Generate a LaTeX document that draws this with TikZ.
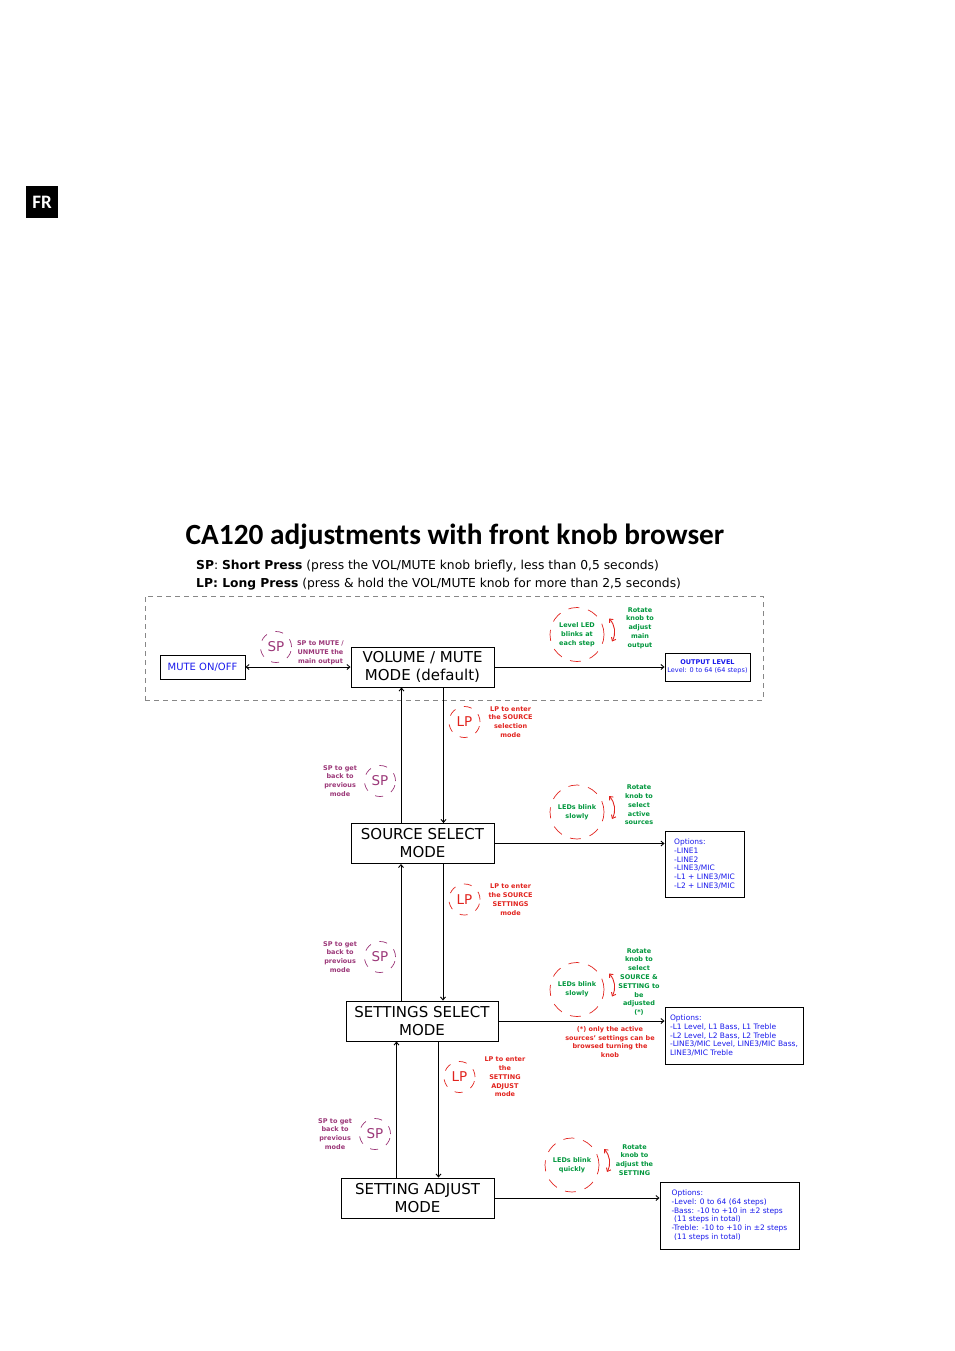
\documentclass[tikz,border=0pt]{standalone}
\usepackage{fontspec}
\setmainfont{DejaVu Sans}
\newfontfamily\titlefont{Carlito}
\usetikzlibrary{arrows.meta, positioning, calc}

\definecolor{sppurple}{RGB}{155,55,120}
\definecolor{lpred}{RGB}{225,35,30}
\definecolor{ledgreen}{RGB}{0,150,60}
\definecolor{optblue}{RGB}{25,25,235}
\definecolor{framegray}{RGB}{135,135,135}

\newcommand{\tinytext}{\fontsize{6.5}{8.8}\selectfont\bfseries}
\newcommand{\opttext}{\fontsize{7.5}{8.8}\selectfont}
\newcommand{\modetext}{\fontsize{15}{18}\selectfont}

\begin{document}
\begin{tikzpicture}[x=1pt, y=-1pt, >={Straight Barb[length=3pt,width=5pt]},
    every node/.style={inner sep=0pt},
    modebox/.style={draw, line width=0.9pt, minimum height=40pt, align=center, font=\modetext},
    optbox/.style={draw, line width=0.9pt, align=left, text=optblue, font=\opttext},
    spmark/.style={circle, draw=sppurple, line width=0.7pt, dash pattern=on 8pt off 9pt, minimum size=31pt, text=sppurple, font=\fontsize{13.5}{15}\selectfont},
    lpmark/.style={spmark, draw=lpred, text=lpred},
    ledmark/.style={circle, draw=lpred, line width=0.7pt, dash pattern=on 11pt off 9pt, minimum size=54pt, text=ledgreen, align=center, font=\tinytext},
    spnote/.style={align=center, text=sppurple, font=\tinytext},
    lpnote/.style={align=center, text=lpred, font=\tinytext},
    rotnote/.style={align=center, text=ledgreen, font=\tinytext},
    knob/.style={<->, lpred, line width=0.9pt}]
    \useasboundingbox (0,0) rectangle (954,1351);

    % language tab and heading
    \node[fill=black, minimum size=32pt, text=white, font=\titlefont\bfseries\fontsize{19}{19}\selectfont] (lang) at (42,202) {FR};
    \node[font=\titlefont\bfseries\fontsize{29.3}{32}\selectfont] (title) at (455,537) {CA120 adjustments with front knob browser};
    \node[anchor=west, align=left, font=\fontsize{12.3}{18}\selectfont] (legend) at (196,575)
        {\textbf{SP}: \textbf{Short Press} (press the VOL/MUTE knob briefly, less than 0,5 seconds)\\
         \textbf{LP: Long Press} (press \& hold the VOL/MUTE knob for more than 2,5 seconds)};

    % default mode frame
    \node[draw=framegray, line width=0.9pt, dash pattern=on 5pt off 4pt, minimum width=618pt, minimum height=104pt] (deflt) at (454,648) {};

    % modes
    \node[modebox, minimum width=143pt] (vol) at (422.5,667) {VOLUME / MUTE\\MODE (default)};
    \node[modebox, minimum width=143pt] (src) at (422.5,843.5) {SOURCE SELECT\\MODE};
    \node[modebox, minimum width=152pt] (sel) at (422,1021) {SETTINGS SELECT\\MODE};
    \node[modebox, minimum width=153pt] (adj) at (417.5,1198) {SETTING ADJUST\\MODE};

    % results
    \node[optbox, minimum width=85pt, minimum height=24pt, font=\fontsize{10}{11}\selectfont] (mute) at (202.5,667) {MUTE ON/OFF};
    \node[optbox, minimum width=85pt, minimum height=28pt, align=center, font=\fontsize{6.5}{8}\selectfont] (outlvl) at (707.5,667) {\textbf{OUTPUT LEVEL}\\Level: 0 to 64 (64 steps)};
    \node[optbox, minimum width=79pt, minimum height=66pt] (srcopt) at (704.5,864)
        {Options:\\-LINE1\\-LINE2\\-LINE3/MIC\\-L1 + LINE3/MIC\\-L2 + LINE3/MIC};
    \node[optbox, minimum width=138pt, minimum height=57pt] (selopt) at (734,1035.5)
        {Options:\\-L1 Level, L1 Bass, L1 Treble\\-L2 Level, L2 Bass, L2 Treble\\-LINE3/MIC Level, LINE3/MIC Bass,\\LINE3/MIC Treble};
    \node[optbox, minimum width=139pt, minimum height=67pt] (adjopt) at (729.5,1215.5)
        {Options:\\-Level: 0 to 64 (64 steps)\\-Bass: -10 to +10 in ±2 steps\\\hspace*{2.5pt}(11 steps in total)\\-Treble: -10 to +10 in ±2 steps\\\hspace*{2.5pt}(11 steps in total)};

    % connectors
    \draw[<->, line width=0.9pt] (mute) -- (vol);
    \draw[->, line width=0.9pt] (vol) -- (outlvl);
    \draw[->, line width=0.9pt] (src.east) -- (src.east -| srcopt.west);
    \draw[->, line width=0.9pt] (sel.east) -- (sel.east -| selopt.west);
    \draw[->, line width=0.9pt] (adj.east) -- (adj.east -| adjopt.west);
    \foreach \up/\dn in {vol/src, src/sel, sel/adj} {
        \draw[->, line width=0.9pt] ([xshift=-21pt]\dn.north) -- ([xshift=-21pt]\dn.north |- \up.south);
        \draw[->, line width=0.9pt] ([xshift=21pt]\dn.north |- \up.south) -- ([xshift=21pt]\dn.north);
    }

    % short / long presses
    \node[spmark] (sp0) at (276,647) {SP};
    \node[spnote, right=5pt of sp0, yshift=-6pt] (sp0note) {SP to MUTE /\\UNMUTE the\\main output};
    \node[lpmark] (lp1) at (464.5,722) {LP};
    \node[lpnote, right=8pt of lp1] (lp1note) {LP to enter\\the SOURCE\\selection\\mode};
    \node[spmark] (sp1) at (380,781) {SP};
    \node[spnote, left=7pt of sp1] (sp1note) {SP to get\\back to\\previous\\mode};
    \node[lpmark] (lp2) at (464.5,899.5) {LP};
    \node[lpnote, right=8pt of lp2] (lp2note) {LP to enter\\the SOURCE\\SETTINGS\\mode};
    \node[spmark] (sp2) at (380,957) {SP};
    \node[spnote, left=7pt of sp2] (sp2note) {SP to get\\back to\\previous\\mode};
    \node[lpmark] (lp3) at (459.5,1077) {LP};
    \node[lpnote, right=9pt of lp3] (lp3note) {LP to enter\\the\\SETTING\\ADJUST\\mode};
    \node[spmark] (sp3) at (375,1134) {SP};
    \node[spnote, left=7pt of sp3] (sp3note) {SP to get\\back to\\previous\\mode};

    % knob rotation
    \node[ledmark] (led0) at (577,634.5) {Level LED\\blinks at\\each step};
    \node[ledmark] (led1) at (577,812) {LEDs blink\\slowly};
    \node[ledmark] (led2) at (577,989.5) {LEDs blink\\slowly};
    \node[ledmark] (led3) at (572,1165) {LEDs blink\\quickly};
    \foreach \l in {led0, led1, led2, led3}
        \draw[knob] ([shift={(32,-16)}]\l.center) to[bend left=35] ([shift={(35,7)}]\l.center);
    \node[rotnote] (rot0) at (640,628) {Rotate\\knob to\\adjust\\main\\output};
    \node[rotnote] (rot1) at (639,805) {Rotate\\knob to\\select\\active\\sources};
    \node[rotnote] (rot2) at (639,982) {Rotate\\knob to\\select\\SOURCE \&\\SETTING to\\be\\adjusted\\(*)};
    \node[rotnote] (rot3) at (634.5,1160) {Rotate\\knob to\\adjust the\\SETTING};
    \node[lpnote] (star) at (610,1042) {(*) only the active\\sources' settings can be\\browsed turning the\\knob};
\end{tikzpicture}
\end{document}
